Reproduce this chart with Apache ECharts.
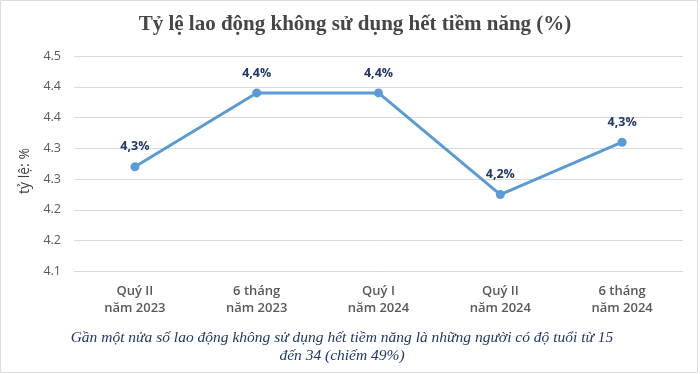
<!DOCTYPE html>
<html>
<head>
<meta charset="utf-8">
<script src="https://cdn.jsdelivr.net/npm/echarts@6/dist/echarts.min.js"></script>
<style>
  html, body { margin: 0; padding: 0; background: #ffffff; }
  #chart { width: 700px; height: 374px; }
</style>
</head>
<body>
<div id="chart"></div>
<script>
const categories = ['Quý II\nnăm 2023', '6 tháng\nnăm 2023', 'Quý I\nnăm 2024', 'Quý II\nnăm 2024', '6 tháng\nnăm 2024'];
const values = [4.27, 4.39, 4.39, 4.225, 4.31];
const pointLabels = ['4,3%', '4,4%', '4,4%', '4,2%', '4,3%'];
const yTickLabels = ['4.1', '4.2', '4.2', '4.3', '4.3', '4.4', '4.4', '4.5'];
const yMin = 4.1, yMax = 4.45, yStep = 0.05;
const titleText = 'Tỷ lệ lao động không sử dụng hết tiềm năng (%)';
const yAxisTitle = 'tỷ lệ: %';
const captionText = 'Gần một nửa số lao động không sử dụng hết tiềm năng là những người có độ tuổi từ 15\nđến 34 (chiếm 49%)';

const chart = echarts.init(document.getElementById('chart'), null, { renderer: 'canvas' });
chart.setOption({
  backgroundColor: '#ffffff',
  animation: false,
  title: {
    text: titleText,
    left: 350, top: 9, textAlign: 'center',
    textStyle: { fontFamily: '"Liberation Serif", "DejaVu Serif", serif', fontWeight: 'bold', fontSize: 21, color: '#464646' }
  },
  grid: { left: 74, right: 17, top: 56, bottom: 102.5, containLabel: false },
  xAxis: {
    type: 'category',
    data: categories,
    boundaryGap: true,
    axisLine: { show: true, lineStyle: { color: '#d9d9d9', width: 1 } },
    axisTick: { show: false },
    axisLabel: {
      margin: 11, fontSize: 13, lineHeight: 17, color: '#595959', fontWeight: 600,
      fontFamily: '"Open Sans", "Noto Sans", sans-serif', interval: 0
    },
    splitLine: { show: false }
  },
  yAxis: {
    type: 'value',
    min: yMin, max: yMax, interval: yStep,
    axisLine: { show: false },
    axisTick: { show: false },
    axisLabel: {
      margin: 13, fontSize: 12.5, color: '#595959',
      fontFamily: '"Open Sans", "Noto Sans", sans-serif',
      formatter: function (v) { return yTickLabels[Math.round((v - yMin) / yStep)] || ''; }
    },
    splitLine: { show: true, lineStyle: { color: '#d9d9d9', width: 1 } }
  },
  series: [{
    type: 'line',
    data: values,
    symbol: 'circle',
    symbolSize: 9,
    lineStyle: { color: '#5b9bd5', width: 3 },
    itemStyle: { color: '#5b9bd5' },
    label: {
      show: true, position: 'top', distance: 9,
      fontSize: 12.5, fontWeight: 'bold', color: '#1f3864',
      fontFamily: '"Open Sans", "Noto Sans", sans-serif',
      formatter: function (p) { return pointLabels[p.dataIndex]; }
    }
  }],
  graphic: [
    {
      type: 'rect', z: -1, silent: true,
      shape: { x: 0.5, y: 0.5, width: 697, height: 372 },
      style: { fill: 'none', stroke: '#dcdcdc', lineWidth: 1 }
    },
    {
      type: 'text', x: 25, y: 171, rotation: Math.PI / 2,
      style: {
        text: yAxisTitle, fontSize: 14, fill: '#404040',
        fontFamily: '"Open Sans", "Noto Sans", sans-serif',
        align: 'center', verticalAlign: 'middle'
      }
    },
    {
      type: 'text', x: 342, y: 347,
      style: {
        text: captionText, fontSize: 15.5, lineHeight: 18, fill: '#1f3864',
        fontStyle: 'italic',
        fontFamily: '"Liberation Serif", "DejaVu Serif", serif',
        align: 'center', verticalAlign: 'middle'
      }
    }
  ]
});
</script>
</body>
</html>
